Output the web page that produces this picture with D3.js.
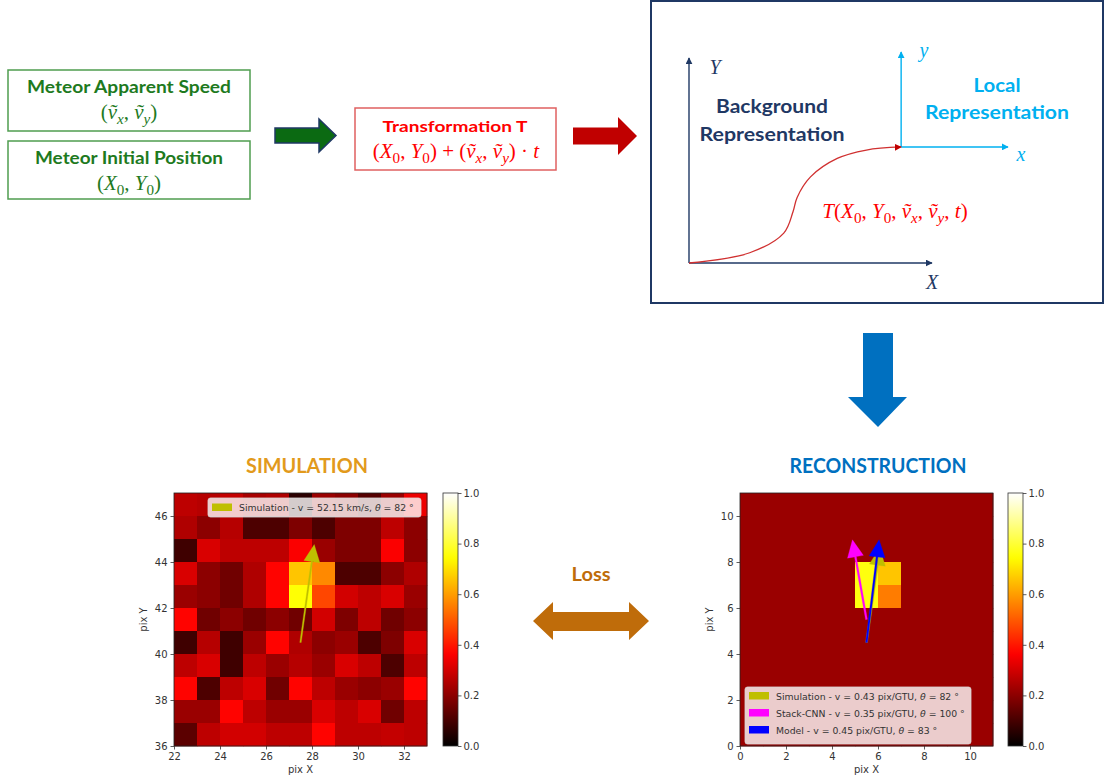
<!DOCTYPE html>
<html>
<head>
<meta charset="utf-8">
<script src="https://cdn.jsdelivr.net/npm/d3@7"></script>
<style>
  body { margin: 0; background: #fff; }
  svg { display: block; }
</style>
</head>
<body>
<svg id="fig" width="1105" height="781"></svg>
<script>
// ---------- data ----------
const simCols = [22, 23, 24, 25, 26, 27, 28, 29, 30, 31, 32];
const simRows = [46, 45, 44, 43, 42, 41, 40, 39, 38, 37, 36];
const simValues = [
  [0.27, 0.26, 0.28, 0.24, 0.25, 0.06, 0.22, 0.20, 0.12, 0.22, 0.34],
  [0.25, 0.20, 0.26, 0.11, 0.11, 0.18, 0.11, 0.18, 0.18, 0.27, 0.20],
  [0.09, 0.31, 0.27, 0.27, 0.27, 0.36, 0.22, 0.18, 0.18, 0.36, 0.20],
  [0.31, 0.20, 0.16, 0.25, 0.37, 0.66, 0.57, 0.11, 0.11, 0.20, 0.25],
  [0.22, 0.20, 0.16, 0.25, 0.37, 0.75, 0.47, 0.30, 0.27, 0.31, 0.22],
  [0.37, 0.16, 0.20, 0.16, 0.20, 0.16, 0.30, 0.18, 0.27, 0.16, 0.20],
  [0.09, 0.26, 0.09, 0.22, 0.37, 0.25, 0.20, 0.22, 0.11, 0.18, 0.31],
  [0.27, 0.31, 0.09, 0.27, 0.22, 0.26, 0.22, 0.31, 0.27, 0.11, 0.27],
  [0.37, 0.11, 0.27, 0.31, 0.16, 0.37, 0.27, 0.22, 0.20, 0.22, 0.37],
  [0.22, 0.22, 0.37, 0.27, 0.22, 0.22, 0.31, 0.27, 0.31, 0.16, 0.27],
  [0.13, 0.27, 0.30, 0.30, 0.27, 0.27, 0.37, 0.27, 0.27, 0.28, 0.27]
];
const simTicksX = [22, 24, 26, 28, 30, 32];
const simTicksY = [36, 38, 40, 42, 44, 46];

const reconCols = [0, 1, 2, 3, 4, 5, 6, 7, 8, 9, 10];
const reconRows = [10, 9, 8, 7, 6, 5, 4, 3, 2, 1, 0];
const reconValues = [
  [0.22, 0.22, 0.22, 0.22, 0.22, 0.22, 0.22, 0.22, 0.22, 0.22, 0.22],
  [0.22, 0.22, 0.22, 0.22, 0.22, 0.22, 0.22, 0.22, 0.22, 0.22, 0.22],
  [0.22, 0.22, 0.22, 0.22, 0.22, 0.22, 0.22, 0.22, 0.22, 0.22, 0.22],
  [0.22, 0.22, 0.22, 0.22, 0.22, 0.76, 0.66, 0.22, 0.22, 0.22, 0.22],
  [0.22, 0.22, 0.22, 0.22, 0.22, 0.76, 0.55, 0.22, 0.22, 0.22, 0.22],
  [0.22, 0.22, 0.22, 0.22, 0.22, 0.22, 0.22, 0.22, 0.22, 0.22, 0.22],
  [0.22, 0.22, 0.22, 0.22, 0.22, 0.22, 0.22, 0.22, 0.22, 0.22, 0.22],
  [0.22, 0.22, 0.22, 0.22, 0.22, 0.22, 0.22, 0.22, 0.22, 0.22, 0.22],
  [0.22, 0.22, 0.22, 0.22, 0.22, 0.22, 0.22, 0.22, 0.22, 0.22, 0.22],
  [0.22, 0.22, 0.22, 0.22, 0.22, 0.22, 0.22, 0.22, 0.22, 0.22, 0.22],
  [0.22, 0.22, 0.22, 0.22, 0.22, 0.22, 0.22, 0.22, 0.22, 0.22, 0.22]
];
const reconTicksX = [0, 2, 4, 6, 8, 10];
const reconTicksY = [0, 2, 4, 6, 8, 10];
const cbarTicks = [0, 0.2, 0.4, 0.6, 0.8, 1.0];

// arrows: tail (x, y), angle in degrees, total length
const simArrows = [
  { name: "Simulation", v: "52.15 km/s", theta: 82, color: "#bfbf00", x: 27.5, y: 40.5, len: 4.3 }
];
const reconArrows = [
  { name: "Simulation", v: "0.43 pix/GTU", theta: 82, color: "#bfbf00", x: 5.5, y: 4.5, len: 4.15 },
  { name: "Stack-CNN", v: "0.35 pix/GTU", theta: 100, color: "#ff00ff", x: 5.5, y: 5.5, len: 3.52 },
  { name: "Model", v: "0.45 pix/GTU", theta: 83, color: "#0000ff", x: 5.5, y: 4.5, len: 4.5 }
];

// ---------- helpers ----------
const svg = d3.select("#fig");
svg.append("rect").attr("width", 1105).attr("height", 781).attr("fill", "#fff");

const SANS = "Lato, 'Open Sans', sans-serif";
const SERIF = "'Liberation Serif', 'DejaVu Serif', serif";
const MPL = "'DejaVu Sans', sans-serif";

// matplotlib "hot" colormap
const hot = v => {
  const r = Math.min(1, v / 0.365079);
  const g = Math.max(0, Math.min(1, (v - 0.365079) / 0.380953));
  const b = Math.max(0, Math.min(1, (v - 0.746032) / 0.253968));
  return d3.rgb(r * 255, g * 255, b * 255).formatHex();
};
const color = d3.scaleSequential(hot).domain([0, 1]);

const label = (x, y, txt, size, fill, opts = {}) => {
  const t = svg.append("text")
    .attr("x", x).attr("y", y)
    .attr("text-anchor", opts.anchor || "middle")
    .style("font-family", opts.family || SANS)
    .style("font-size", size + "px")
    .style("font-weight", opts.weight || "bold")
    .attr("fill", fill)
    .text(txt);
  if (opts.italic) t.style("font-style", "italic");
  return t;
};

const math = (x, y, parts, size, fill) => {
  const t = svg.append("text")
    .attr("x", x).attr("y", y)
    .attr("text-anchor", "middle")
    .style("font-family", SERIF)
    .style("font-size", size + "px")
    .attr("fill", fill);
  let down = false;
  parts.forEach(([txt, s]) => {
    const sp = t.append("tspan").text(txt);
    const sub = s.startsWith("sub");
    if (sub && !down) { sp.attr("dy", size * 0.22); down = true; }
    else if (!sub && down) { sp.attr("dy", -size * 0.22); down = false; }
    if (sub) sp.style("font-size", (size * 0.72) + "px");
    if (s === "i" || s === "subi") sp.style("font-style", "italic");
  });
};

// horizontal block arrow
const blockArrow = (x0, x1, yc, shaftH, headH, headL, fill, stroke) => {
  const xb = x1 - headL;
  const pts = [[x0, yc - shaftH / 2], [xb, yc - shaftH / 2], [xb, yc - headH / 2], [x1, yc],
               [xb, yc + headH / 2], [xb, yc + shaftH / 2], [x0, yc + shaftH / 2]];
  svg.append("path").attr("d", d3.line()(pts) + "Z")
    .attr("fill", fill).attr("stroke", stroke || "none").attr("stroke-width", 1.5)
    .attr("stroke-linejoin", "miter");
};

// ---------- top row ----------
const GREEN = "#1e7a1e";
svg.append("rect").attr("x", 8).attr("y", 70).attr("width", 242).attr("height", 61)
  .attr("fill", "none").attr("stroke", "#4f9d4f").attr("stroke-width", 1.5);
svg.append("rect").attr("x", 8).attr("y", 141).attr("width", 242).attr("height", 58)
  .attr("fill", "none").attr("stroke", "#4f9d4f").attr("stroke-width", 1.5);
label(129, 93, "Meteor Apparent Speed", 16.5, GREEN).attr("textLength", 204).attr("lengthAdjust", "spacingAndGlyphs");
math(129, 119, [["(", "n"], ["ṽ", "i"], ["x", "subi"], [", ", "n"], ["ṽ", "i"], ["y", "subi"], [")", "n"]], 21, GREEN);
label(129, 164, "Meteor Initial Position", 16.5, GREEN).attr("textLength", 188).attr("lengthAdjust", "spacingAndGlyphs");
math(129, 190, [["(", "n"], ["X", "i"], ["0", "sub"], [", ", "n"], ["Y", "i"], ["0", "sub"], [")", "n"]], 21, GREEN);

blockArrow(275, 336, 135.5, 15, 33, 17, "#0b6a12", "#1f3864");

svg.append("rect").attr("x", 355).attr("y", 108).attr("width", 201).attr("height", 62)
  .attr("fill", "none").attr("stroke", "#e06060").attr("stroke-width", 1.5);
label(455, 132, "Transformation T", 15.5, "#ff0000").attr("textLength", 145).attr("lengthAdjust", "spacingAndGlyphs");
math(456, 158, [["(", "n"], ["X", "i"], ["0", "sub"], [", ", "n"], ["Y", "i"], ["0", "sub"], [") + (", "n"],
  ["ṽ", "i"], ["x", "subi"], [", ", "n"], ["ṽ", "i"], ["y", "subi"], [") · ", "n"], ["t", "i"]], 21, "#ff0000");

blockArrow(573, 637, 136, 17, 38, 19, "#c00000");

// coordinate frame box
const NAVY = "#1f3864";
const CYAN = "#00b0f0";
svg.append("rect").attr("x", 651).attr("y", 1).attr("width", 452).attr("height", 302)
  .attr("fill", "#fff").attr("stroke", NAVY).attr("stroke-width", 2);

const defs = svg.append("defs");
const marker = (id, fill) => defs.append("marker").attr("id", id)
  .attr("viewBox", "0 0 10 10").attr("refX", 9).attr("refY", 5)
  .attr("markerWidth", 7).attr("markerHeight", 7).attr("markerUnits", "userSpaceOnUse")
  .attr("orient", "auto")
  .append("path").attr("d", "M0,0 L10,5 L0,10 Z").attr("fill", fill);
marker("mNavy", NAVY);
marker("mCyan", CYAN);
marker("mRed", "#c00000");

const axLine = (x1, y1, x2, y2, col, m) => svg.append("line")
  .attr("x1", x1).attr("y1", y1).attr("x2", x2).attr("y2", y2)
  .attr("stroke", col).attr("stroke-width", 1.4).attr("marker-end", `url(#${m})`);

// background axes
const bgX = d3.scaleLinear().domain([0, 1]).range([689, 932]);
const bgY = d3.scaleLinear().domain([0, 1]).range([263, 58]);
axLine(bgX(0), bgY(0), bgX(0), bgY(1), NAVY, "mNavy");
axLine(bgX(0), bgY(0), bgX(1), bgY(0), NAVY, "mNavy");
label(715, 74, "Y", 20, NAVY, { family: SERIF, weight: "normal", italic: true });
label(932, 289, "X", 20, NAVY, { family: SERIF, weight: "normal", italic: true });
label(772, 113, "Background", 19, NAVY).attr("textLength", 112).attr("lengthAdjust", "spacingAndGlyphs");
label(772, 141, "Representation", 19, NAVY).attr("textLength", 145).attr("lengthAdjust", "spacingAndGlyphs");

// local axes at the end of the trajectory
const origin = [0.873, 0.566];
const ox = bgX(origin[0]), oy = bgY(origin[1]);
axLine(ox, oy, ox, 52, CYAN, "mCyan");
axLine(ox, oy, 1008, oy, CYAN, "mCyan");
label(924, 57, "y", 20, CYAN, { family: SERIF, weight: "normal", italic: true });
label(1021, 161, "x", 20, CYAN, { family: SERIF, weight: "normal", italic: true });
label(997, 92, "Local", 19, CYAN).attr("textLength", 47).attr("lengthAdjust", "spacingAndGlyphs");
label(997, 119, "Representation", 19, CYAN).attr("textLength", 144).attr("lengthAdjust", "spacingAndGlyphs");

// trajectory T
const traj = [[0, 0], [0.25, 0.05], [0.39, 0.146], [0.428, 0.25], [0.445, 0.32], [0.5, 0.42], [0.61, 0.51], [0.73, 0.551], origin];
svg.append("path")
  .attr("d", d3.line().x(d => bgX(d[0])).y(d => bgY(d[1])).curve(d3.curveCatmullRom)(traj))
  .attr("fill", "none").attr("stroke", "#d03030").attr("stroke-width", 1.3)
  .attr("marker-end", "url(#mRed)");
math(895, 218, [["T", "i"], ["(", "n"], ["X", "i"], ["0", "sub"], [", ", "n"], ["Y", "i"], ["0", "sub"], [", ", "n"],
  ["ṽ", "i"], ["x", "subi"], [", ", "n"], ["ṽ", "i"], ["y", "subi"], [", ", "n"], ["t", "i"], [")", "n"]], 21, "#ff0000");

// down arrow
svg.append("path").attr("d", d3.line()([[863, 333], [893, 333], [893, 397], [907, 397], [878, 427], [848, 397], [863, 397]]) + "Z")
  .attr("fill", "#0070c0");

// ---------- bottom row ----------
label(307, 473, "SIMULATION", 21, "#e29a1c").attr("textLength", 122).attr("lengthAdjust", "spacingAndGlyphs");
label(878, 473, "RECONSTRUCTION", 21, "#0070c0").attr("textLength", 177).attr("lengthAdjust", "spacingAndGlyphs");
label(591, 581, "Loss", 19, "#bf6c0a").attr("textLength", 39).attr("lengthAdjust", "spacingAndGlyphs");

// double-headed loss arrow
svg.append("path").attr("d", d3.line()([[533, 621], [553, 602], [553, 612], [629, 612], [629, 602], [649, 621],
  [629, 640], [629, 631], [553, 631], [553, 640]]) + "Z").attr("fill", "#bf6c0a");

function heatmap(cfg) {
  const g = svg.append("g");
  const x = d3.scaleLinear().domain(cfg.xDomain).range([cfg.left, cfg.left + cfg.size]);
  const y = d3.scaleLinear().domain(cfg.yDomain).range([cfg.top + cfg.size, cfg.top]);

  // cells
  cfg.values.forEach((row, ri) => {
    g.selectAll(null).data(row).enter().append("rect")
      .attr("x", (d, ci) => x(cfg.cols[ci]))
      .attr("y", y(cfg.rows[ri] + 1))
      .attr("width", (d, ci) => x(cfg.cols[ci] + 1) - x(cfg.cols[ci]) + 0.4)
      .attr("height", y(cfg.rows[ri]) - y(cfg.rows[ri] + 1) + 0.4)
      .attr("fill", d => color(d));
  });

  // arrows
  cfg.arrows.forEach(a => {
    const t = a.theta * Math.PI / 180;
    const u = [Math.cos(t), Math.sin(t)], n = [-Math.sin(t), Math.cos(t)];
    const w = cfg.shaft / 2, hw = 0.35, hl = 0.75;
    const tip = [a.x + a.len * u[0], a.y + a.len * u[1]];
    const base = [tip[0] - hl * u[0], tip[1] - hl * u[1]];
    const p = (o, k) => [o[0] + k * n[0], o[1] + k * n[1]];
    const pts = [p([a.x, a.y], w), p(base, w), p(base, hw), tip, p(base, -hw), p(base, -w), p([a.x, a.y], -w)];
    g.append("path").attr("d", d3.line().x(d => x(d[0])).y(d => y(d[1]))(pts) + "Z")
      .attr("fill", a.color).attr("stroke", a.color).attr("stroke-width", 0.3);
  });

  // frame
  g.append("rect").attr("x", cfg.left).attr("y", cfg.top).attr("width", cfg.size).attr("height", cfg.size)
    .attr("fill", "none").attr("stroke", "#222").attr("stroke-width", 0.8);

  const styleAxis = sel => {
    sel.select(".domain").remove();
    sel.selectAll("line").attr("stroke", "#333").attr("stroke-width", 0.8);
    sel.selectAll("text").style("font-family", MPL).style("font-size", "10px").attr("fill", "#333");
  };
  g.append("g").attr("transform", `translate(0,${cfg.top + cfg.size})`)
    .call(d3.axisBottom(x).tickValues(cfg.ticksX).tickSize(3.5).tickPadding(3).tickFormat(d3.format("d")))
    .call(styleAxis);
  g.append("g").attr("transform", `translate(${cfg.left},0)`)
    .call(d3.axisLeft(y).tickValues(cfg.ticksY).tickSize(3.5).tickPadding(3).tickFormat(d3.format("d")))
    .call(styleAxis);
  g.append("text").attr("x", cfg.left + cfg.size / 2).attr("y", cfg.top + cfg.size + 27)
    .attr("text-anchor", "middle").style("font-family", MPL).style("font-size", "10px").attr("fill", "#333").text("pix X");
  g.append("text").attr("transform", `translate(${cfg.left - 27},${cfg.top + cfg.size / 2}) rotate(-90)`)
    .attr("text-anchor", "middle").style("font-family", MPL).style("font-size", "10px").attr("fill", "#333").text("pix Y");

  // legend
  const L = cfg.legend;
  g.append("rect").attr("x", L.x).attr("y", L.y).attr("width", L.w).attr("height", L.h).attr("rx", 2.5)
    .attr("fill", "#fff").attr("fill-opacity", 0.8).attr("stroke", "#d8d8d8").attr("stroke-width", 0.8);
  cfg.arrows.forEach((a, i) => {
    const by = L.y + L.pad + i * L.row;
    g.append("rect").attr("x", L.x + 4).attr("y", by - 7.5).attr("width", 20).attr("height", 7.5).attr("fill", a.color);
    const t = g.append("text").attr("x", L.x + 31).attr("y", by)
      .style("font-family", MPL).style("font-size", "9.3px").attr("fill", "#333");
    t.append("tspan").text(`${a.name} - v = ${a.v}, `);
    t.append("tspan").style("font-style", "italic").text("θ");
    t.append("tspan").text(` = ${a.theta} °`);
  });

  // colorbar
  const cb = d3.scaleLinear().domain([0, 1]).range([cfg.top + cfg.size, cfg.top]);
  const gid = "grad" + cfg.id;
  const grad = defs.append("linearGradient").attr("id", gid).attr("x1", 0).attr("y1", 1).attr("x2", 0).attr("y2", 0);
  grad.selectAll("stop").data(d3.range(0, 1.0001, 0.02)).enter().append("stop")
    .attr("offset", d => d).attr("stop-color", d => color(d));
  g.append("rect").attr("x", cfg.cbarX).attr("y", cfg.top).attr("width", 15).attr("height", cfg.size)
    .attr("fill", `url(#${gid})`).attr("stroke", "#333").attr("stroke-width", 0.8);
  g.append("g").attr("transform", `translate(${cfg.cbarX + 15},0)`)
    .call(d3.axisRight(cb).tickValues(cbarTicks).tickSize(3.5).tickPadding(2).tickFormat(d3.format(".1f")))
    .call(styleAxis);
}

heatmap({
  id: "sim", left: 174, top: 493, size: 253, xDomain: [22, 33], yDomain: [36, 47],
  cols: simCols, rows: simRows, values: simValues, ticksX: simTicksX, ticksY: simTicksY,
  arrows: simArrows, shaft: 0.065,
  legend: { x: 208, y: 498, w: 213, h: 19, pad: 13, row: 17 },
  cbarX: 443
});
heatmap({
  id: "rec", left: 740, top: 493, size: 253, xDomain: [0, 11], yDomain: [0, 11],
  cols: reconCols, rows: reconRows, values: reconValues, ticksX: reconTicksX, ticksY: reconTicksY,
  arrows: reconArrows, shaft: 0.08,
  legend: { x: 745, y: 687, w: 226, h: 57, pad: 12.5, row: 17 },
  cbarX: 1008
});
</script>
</body>
</html>
